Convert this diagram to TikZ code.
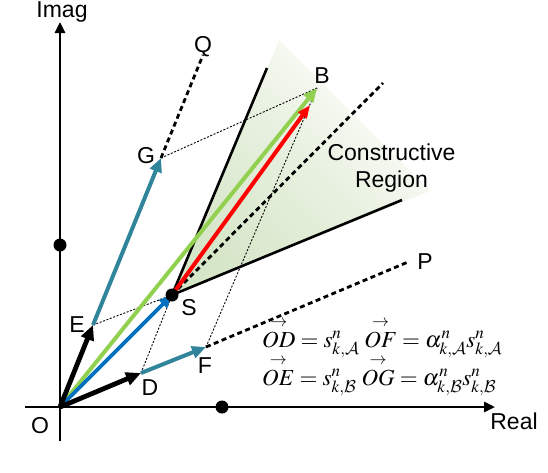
\documentclass[tikz,border=0pt]{standalone}
\usepackage{amsmath}
\usepackage{mathptmx}
\DeclareMathAlphabet{\mathcal}{OMS}{cmsy}{m}{n}
\usepackage{fontspec}
\setmainfont{Liberation Sans}
\usetikzlibrary{arrows.meta}
\definecolor{tealc}{RGB}{49,133,155}
\definecolor{bluec}{RGB}{0,112,192}
\definecolor{greenc}{RGB}{146,208,80}
\definecolor{shadeg}{RGB}{214,230,200}
\tikzset{
  lbl/.style={font=\fontsize{23}{27}\selectfont, inner sep=0pt, anchor=base},
  eqn/.style={font=\fontsize{23}{27}\selectfont, inner sep=0pt, anchor=base west},
  axisline/.style={line width=2.6pt, -{Triangle[length=11pt,width=10pt]}},
  bigarrow/.style={line width=4.8pt, -{Triangle[length=15pt,width=13pt]}},
  midarrow/.style={line width=4pt, -{Triangle[length=14pt,width=12pt]}},
  wedgeline/.style={line width=2.6pt},
  dashline/.style={line width=2.8pt, dash pattern=on 5pt off 3.5pt},
  dotline/.style={line width=0.9pt, dash pattern=on 2pt off 1.6pt},
  dotmark/.style={circle, fill=black, inner sep=0pt, minimum size=13pt},
}
\begin{document}
\begin{tikzpicture}[x=1pt,y=-1pt]
\useasboundingbox (0,0) rectangle (548,472);
% key points
\coordinate (O) at (60,407);
\coordinate (D) at (141,373);
\coordinate (E) at (93,325);
\coordinate (F) at (206,347);
\coordinate (G) at (161,158);
\coordinate (S) at (172,295);
\coordinate (B) at (317,88);
\coordinate (Bred) at (310,105);
\coordinate (Q) at (203,55);
\coordinate (P) at (408,262);
\coordinate (U) at (267,68);
\coordinate (L) at (402,200);
\coordinate (M) at (383,83);
\coordinate (W1) at (279,40);
\coordinate (W2) at (430,191);
\coordinate (Ytop) at (60,22);
\coordinate (Ybot) at (60,441);
\coordinate (Xl) at (25,407);
\coordinate (Xr) at (495,407);
% constructive region shading
\shade[top color=white, bottom color=shadeg, middle color=shadeg!60, shading angle=-45] (S) -- (W1) -- (W2) -- cycle;
% axes
\draw[axisline] (Ybot) -- (Ytop);
\draw[axisline] (Xl) -- (Xr);
% wedge boundaries and bisector
\draw[wedgeline] (S) -- (U);
\draw[wedgeline] (S) -- (L);
\draw[dashline] (S) -- (M);
% extensions
\draw[dashline] (G) -- (Q);
\draw[dashline] (F) -- (P);
% parallelogram dotted lines
\draw[dotline] (E) -- (S);
\draw[dotline] (D) -- (S);
\draw[dotline] (G) -- (B);
\draw[dotline] (F) -- (B);
% vectors
\draw[midarrow, greenc] (O) -- (B);
\draw[line width=3.6pt, bluec, -{Triangle[length=13pt,width=11pt]}] (O) -- (S);
\draw[line width=4pt, red, -{Triangle[length=13pt,width=10pt]}] (S) -- (Bred);
\draw[bigarrow] (O) -- (D);
\draw[bigarrow] (O) -- (E);
\draw[midarrow, tealc] (D) -- (F);
\draw[midarrow, tealc] (E) -- (G);
% dots
\node[dotmark] (Sdot) at (S) {};
\node[dotmark] (ydot) at (60,245) {};
\node[dotmark] (xdot) at (222,407) {};
% labels
\node[lbl] (tImag) at (62,17.5) {Imag};
\node[lbl] (tReal) at (514,429) {Real};
\node[lbl] (tO) at (40,433) {O};
\node[lbl] (tD) at (150,395) {D};
\node[lbl] (tE) at (77,332) {E};
\node[lbl] (tF) at (205,373) {F};
\node[lbl] (tS) at (189,315) {S};
\node[lbl] (tG) at (146,163) {G};
\node[lbl] (tQ) at (203,52) {Q};
\node[lbl] (tB) at (322,83) {B};
\node[lbl] (tP) at (425,269) {P};
\node[lbl] (tC) at (391.5,160) {Constructive};
\node[lbl] (tR) at (391.5,187) {Region};
% equations
\node[eqn] (eq1) at (262,347) {$\overset{\rightarrow}{OD}=s^{n}_{k,\mathcal{A}}\;\overset{\rightarrow}{OF}=\alpha^{n}_{k,\mathcal{A}}s^{n}_{k,\mathcal{A}}$};
\node[eqn] (eq2) at (262,385) {$\overset{\rightarrow}{OE}=s^{n}_{k,\mathcal{B}}\;\overset{\rightarrow}{OG}=\alpha^{n}_{k,\mathcal{B}}s^{n}_{k,\mathcal{B}}$};
\end{tikzpicture}
\end{document}
